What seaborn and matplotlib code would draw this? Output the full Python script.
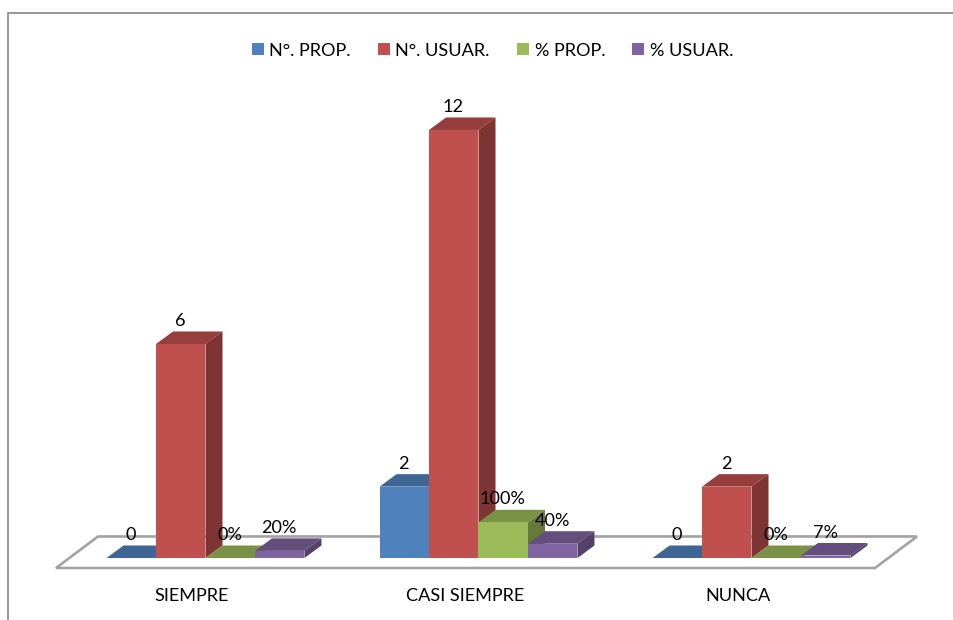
import matplotlib
matplotlib.use("Agg")
import matplotlib.pyplot as plt
import matplotlib.colors as mcolors
from matplotlib.lines import Line2D
from matplotlib.patches import Polygon
from matplotlib.transforms import Affine2D, ScaledTranslation
import pandas as pd
import seaborn as sns

# Survey responses per frequency answer
categories = ["SIEMPRE", "CASI SIEMPRE", "NUNCA"]
num_prop = [0, 2, 0]
num_usuar = [6, 12, 2]
pct_prop = [0, 1.00, 0]
pct_usuar = [0.20, 0.40, 0.07]
series_names = ["N°. PROP.", "N°. USUAR.", "% PROP.", "% USUAR."]
palette = ["#4F81BD", "#C0504D", "#9BBB59", "#8064A2"]

frame = pd.DataFrame({
    "categoria": categories * 4,
    "serie": [n for n in series_names for _ in categories],
    "valor": num_prop + num_usuar + pct_prop + pct_usuar,
})

W, H = 954, 620
sns.set_theme(style="white")
plt.rcParams["font.family"] = ["Lato", "DejaVu Sans"]
TEXT_SIZE = 13.1

fig = plt.figure(figsize=(W / 100, H / 100), dpi=100, facecolor="white")
ax = fig.add_axes([69 / W, 1 - 558 / H, 819 / W, 458 / H])
ax.patch.set_visible(False)

sns.barplot(data=frame, x="categoria", y="valor", hue="serie",
            hue_order=series_names, order=categories, palette=palette,
            saturation=1, width=0.725, gap=0, dodge=True, ax=ax,
            errorbar=None, linewidth=0)
ax.set_xlim(-0.5, 2.5)
ax.set_ylim(0, 458 / 35.67)
ax.set_xlabel("")
ax.set_ylabel("")
ax.set_yticks([])
sns.despine(ax=ax, left=True, bottom=True)

# Pixel-space transform (origin top-left) for the frame and the floor slab
px = Affine2D().scale(1, -1).translate(0, H)

fig.add_artist(Line2D([7.5, 7.5, W], [H, 13, 13], transform=px,
                      color="#868686", lw=1.2, solid_joinstyle="miter"))
ax.add_patch(Polygon([(56, 568), (875, 568), (917, 536.5), (98, 536.5)],
                     closed=True, transform=px, facecolor="white",
                     edgecolor="#A3A3A3", lw=1.9, zorder=1, clip_on=False,
                     joinstyle="miter"))

# Extrude each bar: top and right faces share the bar's own geometry
DEPTH_X = 17 / 273
DEPTH_Y = 12.5 / 35.67


def shade(color, factor):
    r, g, b = mcolors.to_rgb(color)
    return (r * factor, g * factor, b * factor)


for i, (container, color) in enumerate(zip(ax.containers, palette)):
    for bar in container:
        x0, x1 = bar.get_x(), bar.get_x() + bar.get_width()
        top = bar.get_height()
        bar.set_zorder(4 + 2 * i)
        ax.add_patch(Polygon(
            [(x0, top), (x1, top), (x1 + DEPTH_X, top + DEPTH_Y), (x0 + DEPTH_X, top + DEPTH_Y)],
            closed=True, facecolor=shade(color, 0.78), edgecolor="none",
            zorder=3 + 2 * i, clip_on=False))
        ax.add_patch(Polygon(
            [(x1, 0), (x1, top), (x1 + DEPTH_X, top + DEPTH_Y), (x1 + DEPTH_X, DEPTH_Y)],
            closed=True, facecolor=shade(color, 0.65), edgecolor="none",
            zorder=3 + 2 * i, clip_on=False))

# Data labels: counts as integers, shares as percentages
for name, container in zip(series_names, ax.containers):
    for bar in container:
        value = bar.get_height()
        label = f"{value:.0%}" if name.startswith("%") else f"{value:.0f}"
        ax.annotate(label, (bar.get_x() + bar.get_width() / 2, value),
                    xytext=(-0.5, 16.5), textcoords="offset points",
                    ha="center", va="center", fontsize=TEXT_SIZE,
                    color="black", zorder=30, annotation_clip=False)

# Category labels sit left of the group centre, under the slab's front edge
ax.tick_params(axis="x", length=0, pad=21.5, labelsize=TEXT_SIZE, labelcolor="black")
shift = ScaledTranslation(-13.5 / 100, 0, fig.dpi_scale_trans)
for tick in ax.get_xticklabels():
    tick.set_transform(tick.get_transform() + shift)

sns.move_legend(ax, "center", bbox_to_anchor=(492.5 / W, 1 - 50.5 / H),
                bbox_transform=fig.transFigure, ncol=4, frameon=False, title=None,
                fontsize=TEXT_SIZE, handlelength=0.66, handleheight=0.66,
                handletextpad=0.3, columnspacing=1.5, borderpad=0, borderaxespad=0)
for text in ax.get_legend().get_texts():
    text.set_color("black")

fig.savefig("out.png", dpi=100, facecolor="white")
